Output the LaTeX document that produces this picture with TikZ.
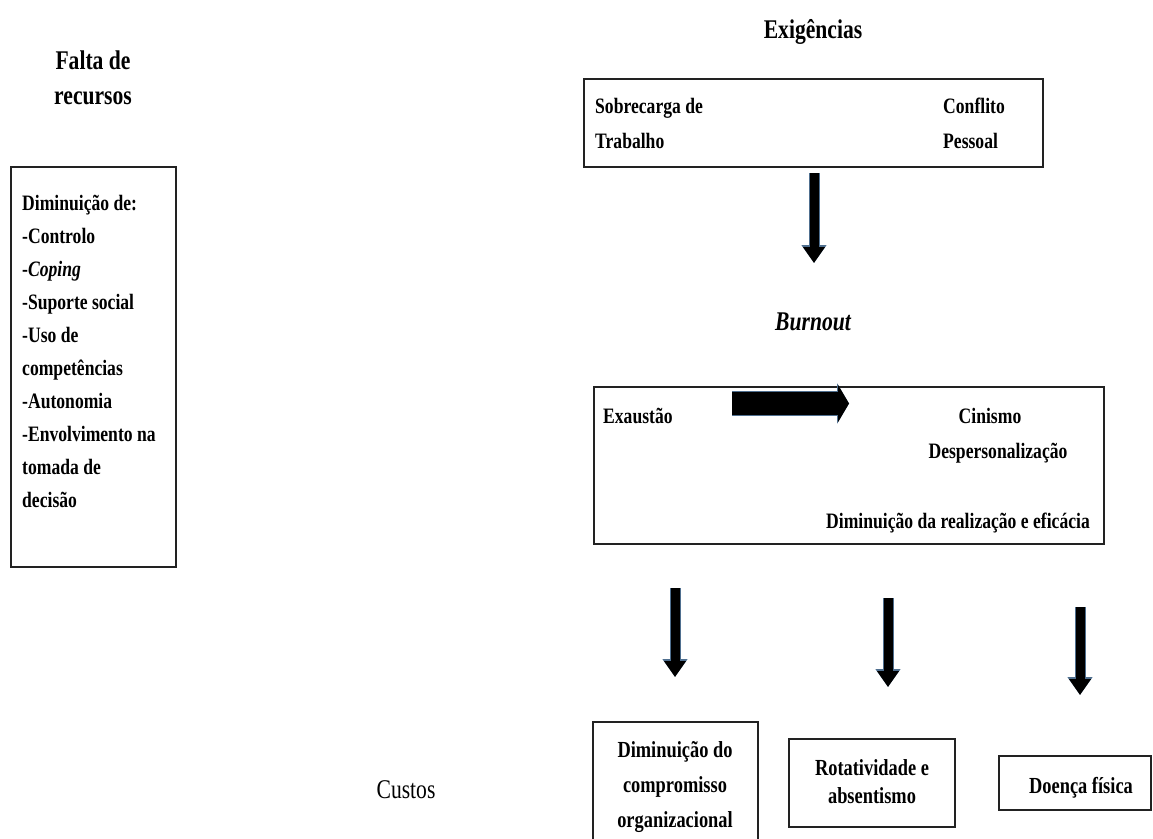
\documentclass[tikz,border=0pt]{standalone}
\usepackage{fontspec}
\setmainfont{Liberation Serif}[FakeStretch=0.8]
\usetikzlibrary{arrows.meta}
\definecolor{halo}{HTML}{4F6F8F}
\definecolor{frame}{HTML}{222222}
\tikzset{
  box/.style={draw=frame, line width=1.6pt, inner sep=0pt},
  txt/.style={inner sep=0pt, font=\bfseries\fontsize{22}{26}\selectfont},
  btxt/.style={inner sep=0pt, font=\bfseries\fontsize{23}{27}\selectfont},
  ttl/.style={inner sep=0pt, font=\bfseries\fontsize{27}{32}\selectfont},
  bhalo/.style={draw=halo, line width=11pt, -{Triangle[width=24pt,length=18pt]}},
  barrow/.style={draw=black, line width=9pt, -{Triangle[width=21pt,length=16pt]}},
  hhalo/.style={draw=halo, line width=25pt, -{Triangle[width=40pt,length=12pt]}},
  harrow/.style={draw=black, line width=23pt, -{Triangle[width=37pt,length=11pt]}}
}
\begin{document}
\begin{tikzpicture}[x=1pt,y=-1pt]
\path[use as bounding box] (0,0) rectangle (1153,838);
\clip (0,0) rectangle (1153,838);
\fill[white] (0,0) rectangle (1153,838);

% titles
\node[ttl, anchor=base] (falta1) at (93,69) {Falta de};
\node[ttl, anchor=base] (falta2) at (93,104) {recursos};
\node[ttl, anchor=base] (exig) at (813,38) {Exigências};
\node[ttl, anchor=base, font=\bfseries\itshape\fontsize{27}{32}\selectfont] (burn) at (813,330) {Burnout};
\node[ttl, anchor=base, font=\fontsize{27}{32}\selectfont] (custos) at (406,798) {Custos};

% left box
\node[box, minimum width=165pt, minimum height=400pt] (leftbox) at (93.5,367) {};
\foreach \t [count=\i from 0] in {Diminuição de:,-Controlo,-\textit{Coping},-Suporte social,-Uso de,competências,-Autonomia,-Envolvimento na,tomada de,decisão}
  \node[txt, anchor=base west] (l\i) at (22,{210+33.1*\i}) {\t};

% top box
\node[box, minimum width=459pt, minimum height=88pt] (topbox) at (813.5,123) {};
\node[txt, anchor=base west] (sob1) at (595,113) {Sobrecarga de};
\node[txt, anchor=base west] (sob2) at (595,148) {Trabalho};
\node[txt, anchor=base west] (con1) at (943,113) {Conflito};
\node[txt, anchor=base west] (con2) at (943,148) {Pessoal};

% burnout box
\node[box, minimum width=510pt, minimum height=157pt] (burnbox) at (849,465.5) {};
\node[txt, anchor=base west] (exa) at (603,423) {Exaustão};
\node[txt, anchor=base] (cin) at (990,423) {Cinismo};
\node[txt, anchor=base] (desp) at (998,458) {Despersonalização};
\node[txt, anchor=base east] (dimr) at (1090,528) {Diminuição da realização e eficácia};

% bottom boxes
\node[box, minimum width=165pt, minimum height=128pt] (box1) at (675.5,786) {};
\node[btxt, anchor=base] (b1a) at (675,757) {Diminuição do};
\node[btxt, anchor=base] (b1b) at (675,792) {compromisso};
\node[btxt, anchor=base] (b1c) at (675,827) {organizacional};

\node[box, minimum width=166pt, minimum height=88pt] (box2) at (872,783) {};
\node[btxt, anchor=base] (b2a) at (872,775) {Rotatividade e};
\node[btxt, anchor=base] (b2b) at (872,803) {absentismo};

\node[box, minimum width=152pt, minimum height=54pt] (box3) at (1075,783) {};
\node[btxt, anchor=base] (b3a) at (1081,793) {Doença física};

% arrow end points
\coordinate (t0) at (814,173);  \coordinate (t1) at (814,263);
\coordinate (d1s) at (675,588); \coordinate (d1e) at (675,677);
\coordinate (d2s) at (888,598); \coordinate (d2e) at (888,687);
\coordinate (d3s) at (1080,607); \coordinate (d3e) at (1080,695);
\coordinate (hs) at (732,403.5); \coordinate (he) at (849,403.5);

\foreach \a/\b in {t0/t1,d1s/d1e,d2s/d2e,d3s/d3e}{
  \draw[bhalo] (\a) -- (\b);
  \draw[barrow] (\a) -- (\b);
}
\draw[hhalo] (hs) -- (he);
\draw[harrow] (hs) -- (he);
\end{tikzpicture}
\end{document}
